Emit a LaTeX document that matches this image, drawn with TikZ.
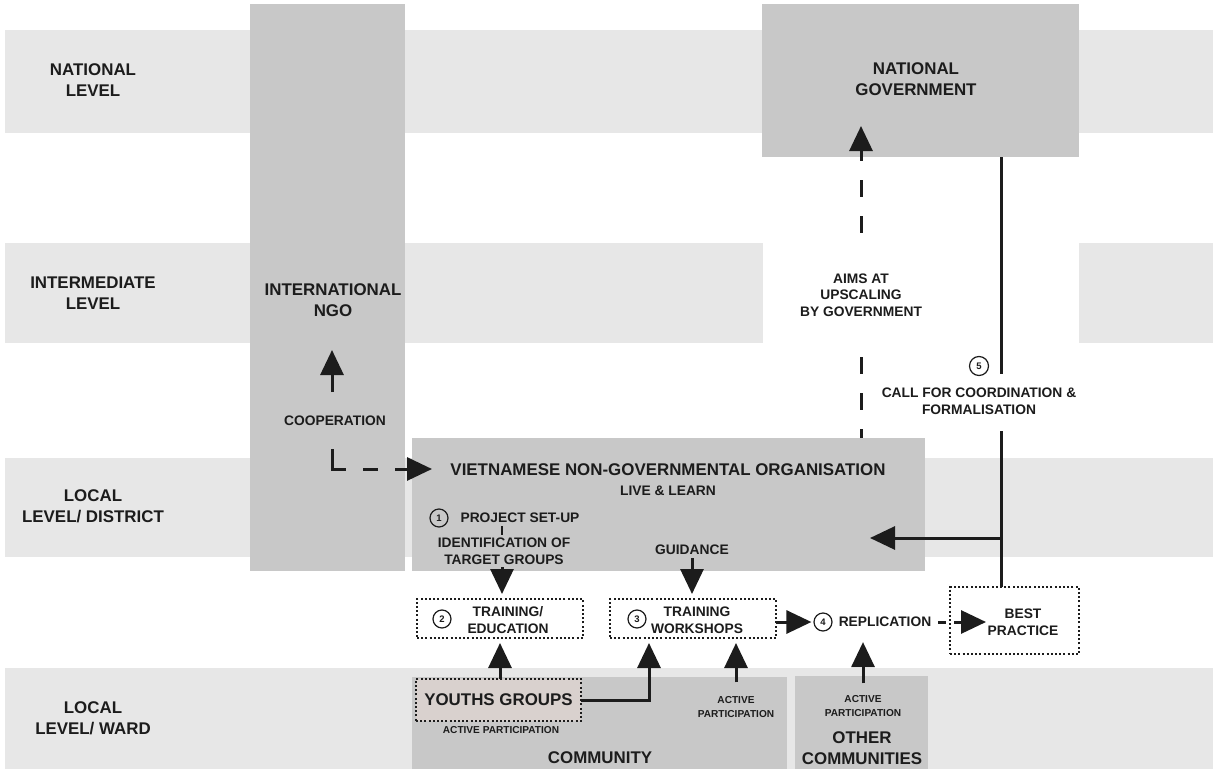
\documentclass[tikz,border=0pt]{standalone}
\usepackage{fontspec}
\setmainfont{Liberation Sans}
\usetikzlibrary{arrows.meta}

\definecolor{bandgray}{RGB}{231,231,231}
\definecolor{boxgray}{RGB}{200,200,200}
\definecolor{youthfill}{RGB}{217,209,206}
\definecolor{inkgray}{RGB}{28,28,28}

\begin{document}
\begin{tikzpicture}[x=1pt,y=-1pt,
  every node/.append style={text=inkgray,font=\bfseries,align=center,inner sep=3pt},
  bigtxt/.style={font=\bfseries\fontsize{16.9}{21}\selectfont},
  medtxt/.style={font=\bfseries\fontsize{13.8}{16.5}\selectfont},
  smalltxt/.style={font=\bfseries\fontsize{10.1}{13.6}\selectfont},
  orgbox/.style={fill=boxgray,outer sep=0pt},
  dotbox/.style={draw=inkgray,line width=2pt,dash pattern=on 2pt off 2.2pt,outer sep=0pt},
  num/.style={circle,draw=inkgray,line width=1.2pt,minimum size=18pt,inner sep=0pt,
    font=\bfseries\fontsize{9.5}{9.5}\selectfont},
  conn/.style={draw=inkgray,line width=3pt},
  arr/.style={conn,-{Triangle[length=25pt,width=23pt]}},
  dashconn/.style={dash pattern=on 17pt off 19pt}]
  \useasboundingbox (0,0) rectangle (1213,771);
  \fill[white] (0,0) rectangle (1213,771);

  % level bands
  \fill[bandgray] (5,30) rectangle (1213,133);
  \fill[bandgray] (5,243) rectangle (763,343);
  \fill[bandgray] (1079,243) rectangle (1213,343);
  \fill[bandgray] (5,458) rectangle (1213,557);
  \fill[bandgray] (5,668) rectangle (1213,769);

  \node[bigtxt] (lvlNat) at (93,80) {NATIONAL\\LEVEL};
  \node[bigtxt] (lvlInt) at (93,293) {INTERMEDIATE\\LEVEL};
  \node[bigtxt] (lvlDist) at (93,506) {LOCAL\\LEVEL/ DISTRICT};
  \node[bigtxt] (lvlWard) at (93,718) {LOCAL\\LEVEL/ WARD};

  % actors
  \node[orgbox,minimum width=155,minimum height=567] (ingo) at (327.5,287.5) {};
  \node[bigtxt] (ingoText) at (333,300) {INTERNATIONAL\\NGO};
  \node[orgbox,minimum width=317,minimum height=153] (ng) at (920.5,80.5) {};
  \node[bigtxt] (ngText) at (916,79) {NATIONAL\\GOVERNMENT};
  \node[orgbox,minimum width=513,minimum height=133] (vngo) at (668.5,504.5) {};
  \node[bigtxt] (vngoTitle) at (668,470) {VIETNAMESE NON-GOVERNMENTAL ORGANISATION};
  \node[medtxt] (vngoSub) at (668,491) {LIVE \& LEARN};
  \node[orgbox,minimum width=375,minimum height=92] (comm) at (599.5,723) {};
  \node[bigtxt] (commText) at (600,758) {COMMUNITY};
  \node[orgbox,minimum width=133,minimum height=93] (other) at (861.5,722.5) {};
  \node[bigtxt] (otherText) at (862,748) {OTHER\\COMMUNITIES};

  % steps
  \node[num] (c1) at (439,518) {1};
  \node[medtxt] (setup) at (520,518) {PROJECT SET-UP};
  \node[medtxt] (ident) at (504,551) {IDENTIFICATION OF\\TARGET GROUPS};
  \node[medtxt] (guide) at (692,550) {GUIDANCE};
  \node[medtxt] (coop) at (335,421) {COOPERATION};
  \node[medtxt,minimum height=124] (aims) at (861,295) {AIMS AT\\UPSCALING\\BY GOVERNMENT};
  \node[num,minimum size=19pt] (c5) at (979,366) {5};
  \node[medtxt] (call) at (979,401) {CALL FOR COORDINATION \&\\FORMALISATION};

  \node[dotbox,minimum width=166,minimum height=39] (edu) at (500,618.5) {};
  \node[num] (c2) at (442,619) {2};
  \node[medtxt] (eduText) at (508,620) {TRAINING/\\EDUCATION};
  \node[dotbox,minimum width=166,minimum height=39] (ws) at (693,618.5) {};
  \node[num] (c3) at (637,619) {3};
  \node[medtxt] (wsText) at (697,620) {TRAINING\\WORKSHOPS};
  \node[num] (c4) at (823,622) {4};
  \node[medtxt] (rep) at (885,622) {REPLICATION};
  \node[dotbox,minimum width=129,minimum height=67] (bp) at (1014.5,620.5) {};
  \node[medtxt] (bpText) at (1023,622) {BEST\\PRACTICE};

  \node[dotbox,fill=youthfill,bigtxt,minimum width=165,minimum height=42] (youth) at (498.5,700) {YOUTHS GROUPS};
  \node[smalltxt] (apYouth) at (501,730) {ACTIVE PARTICIPATION};
  \node[smalltxt] (apComm) at (736,707) {ACTIVE\\PARTICIPATION};
  \node[smalltxt] (apOther) at (863,706) {ACTIVE\\PARTICIPATION};

  % free ends
  \coordinate (coopTail) at (332,392);
  \coordinate (coopTip) at (332,350);
  \coordinate (coopL) at (332,449);
  \coordinate (vngoIn) at (432,469);
  \coordinate (ngIn) at (861,126);
  \coordinate (callA) at (1001,374);
  \coordinate (callB) at (1001,431);
  \coordinate (vngoR) at (870,538);
  \coordinate (bpIn) at (986,622);

  % connectors
  \draw[arr] (coopTail) -- (coopTip);
  \draw[arr,dash pattern=on 34pt off 17pt on 15pt off 17pt] (coopL) |- (vngoIn);
  \draw[conn,dashconn] (aims.south) -- (aims.south |- vngo.north);
  \draw[arr,dashconn] (aims.north) -- (ngIn);
  \draw[conn] (ng.south -| callA) -- (callA);
  \draw[conn] (callB) -- (callB |- bp.north);
  \draw[arr] (callB |- vngoR) -- (vngoR);
  \draw[conn,line width=2.5pt] ([xshift=-2pt]ident.north) -- ([xshift=-2pt]ident.north |- setup.south);
  \draw[arr,shorten >=5pt] ([xshift=-2pt]ident.south) -- ([xshift=-2pt]ident.south |- edu.north);
  \draw[arr,shorten >=5pt] (guide.south) -- (guide.south |- ws.north);
  \draw[arr,shorten >=2pt] (ws.east |- c4) -- (c4.west);
  \draw[arr,shorten <=4pt,dash pattern=on 8pt off 8pt] (rep.east) -- (bpIn);
  \draw[arr,shorten >=5pt] (edu.south |- youth.north) -- (edu.south);
  \draw[arr,shorten >=5pt] (youth.east) -| ([xshift=39pt]ws.south west);
  \draw[arr,shorten <=11pt,shorten >=5pt] (apComm.north) -- (apComm.north |- ws.south);
  \draw[arr,shorten <=9pt,shorten >=12pt] (apOther.north) -- (apOther.north |- rep.south);
\end{tikzpicture}
\end{document}
